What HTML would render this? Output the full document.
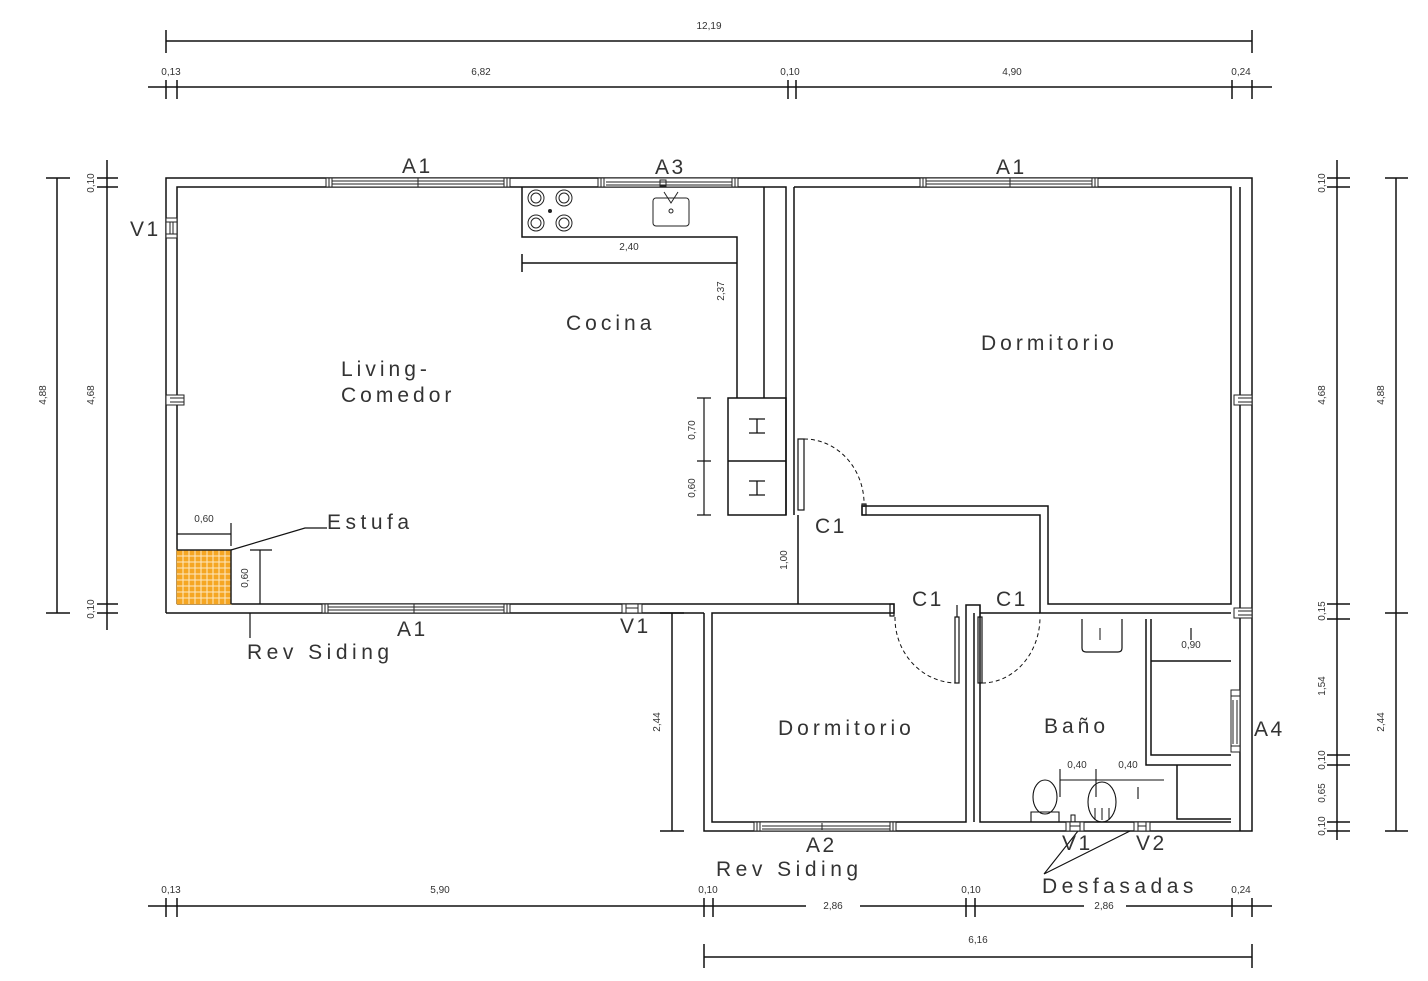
<!DOCTYPE html>
<html><head><meta charset="utf-8"><style>
html,body{margin:0;padding:0;background:#fff}
svg{display:block}
text{font-family:"Liberation Sans",sans-serif;fill:#333}
.d{font-size:10px}
.l{font-size:21px;letter-spacing:4px;fill:#444}
.r{font-size:21px;letter-spacing:2.5px;fill:#444}
.w{font-size:21px;letter-spacing:4.5px;fill:#444}
</style></head><body>
<svg width="1428" height="981" viewBox="0 0 1428 981" xmlns="http://www.w3.org/2000/svg">
<g stroke="#111" stroke-width="1.5" fill="none">
<line x1="166" y1="41" x2="1252" y2="41"/><line x1="166" y1="30" x2="166" y2="53"/><line x1="1252" y1="30" x2="1252" y2="53"/>
<line x1="148" y1="87" x2="1272" y2="87"/>
<path d="M166 80V99M177 80V99M788 80V99M796 80V99M1232 80V99M1252 80V99"/>
<line x1="57" y1="178" x2="57" y2="613"/><line x1="46" y1="178" x2="70" y2="178"/><line x1="46" y1="613" x2="70" y2="613"/>
<line x1="107" y1="160" x2="107" y2="630"/>
<path d="M97 178H118M97 187H118M97 604H118M97 613H118"/>
<line x1="1337" y1="160" x2="1337" y2="840"/>
<path d="M1327 178H1350M1327 187H1350M1327 604H1350M1327 619H1350M1327 755H1350M1327 765H1350M1327 822H1350M1327 831H1350"/>
<line x1="1396" y1="178" x2="1396" y2="831"/>
<path d="M1385 178H1408M1385 613H1408M1385 831H1408"/>
<line x1="148" y1="906" x2="806" y2="906"/><line x1="860" y1="906" x2="1084" y2="906"/><line x1="1126" y1="906" x2="1272" y2="906"/>
<path d="M166 898V917M177 898V917M704 898V917M713 898V917M966 898V917M975 898V917M1232 898V917M1252 898V917"/>
<line x1="704" y1="957" x2="1252" y2="957"/><line x1="704" y1="944" x2="704" y2="968"/><line x1="1252" y1="944" x2="1252" y2="968"/>
<line x1="672" y1="613" x2="672" y2="831"/><line x1="660" y1="613" x2="684" y2="613"/><line x1="660" y1="831" x2="684" y2="831"/>

<path d="M166 613V178H1252V831H704V613"/>
<path d="M177 604V187H786V515"/>
<path d="M794 187H1231V604H1048V506H862V515H1040V613H1231" />
<path d="M794 187V515"/>
<line x1="1240" y1="187" x2="1240" y2="831"/>
<path d="M166 613H704M177 604H894V613H712V822H966V605H980V822H1231"/>
<path d="M974 613V822"/>
<path d="M980 613H1040"/>
<path d="M522 187V237H737V398M764 187V398"/>
<line x1="522" y1="263" x2="737" y2="263"/><line x1="522" y1="254" x2="522" y2="272"/>
<rect x="728" y="398" width="58" height="117"/><line x1="728" y1="461" x2="786" y2="461"/>
<path d="M704 398V515M697 398H711M697 461H711M697 515H711" stroke-width="1.2"/>
<path d="M749 419H765M749 433H765M757 419V433M749 481H765M749 495H765M757 481V495" stroke-width="1.3"/>
<line x1="798" y1="515" x2="798" y2="604"/>
<rect x="177" y="550" width="54" height="54" fill="#f5a623" stroke="#f5a623" stroke-width="1"/>
<path d="M183 550V604M189 550V604M195 550V604M201 550V604M207 550V604M213 550V604M219 550V604M225 550V604M177 556H231M177 562H231M177 568H231M177 574H231M177 580H231M177 586H231M177 592H231M177 598H231" stroke="#fde9c4" stroke-width="1"/>
<path d="M177 550H231V604" stroke="#222"/>
<path d="M177 534H231M231 523V546" stroke-width="1.2"/>
<path d="M260 550V604M250 550H272" stroke-width="1.2"/>
<path d="M231 550L305 528H327" stroke-width="1.2"/>
<path d="M250 613V638" stroke-width="1.2"/>
<path d="M1146 619V765H1231M1151 619V755H1231M1151 661H1231M1177 765V819H1231"/>
<path d="M1191 628V640" stroke-width="1.2"/>
<path d="M1082 619V648Q1082 652 1086 652H1118Q1122 652 1122 648V619" stroke-width="1.2"/>
<path d="M1100 628V640" stroke-width="1"/>
<path d="M1060 780H1164M1060 769V797M1096 769V797M1138 787V799" stroke-width="1.1"/>
<ellipse cx="1045" cy="797" rx="12" ry="17" stroke-width="1.1"/>
<path d="M1031 822V812H1059V822" stroke-width="1.1"/>
<ellipse cx="1102" cy="802" rx="14" ry="20" stroke-width="1.1"/>
<path d="M1095 820V808M1102 820V808M1109 820V808" stroke-width="1"/>
<rect x="1071" y="815" width="4" height="7" stroke-width="1"/>
<rect x="798" y="439" width="6" height="71" stroke-width="1.2"/>
<path d="M804 439A60 65 0 0 1 864 507" stroke-dasharray="4 3" stroke-width="1"/>
<rect x="862" y="504" width="4" height="11" stroke-width="1.2"/>
<rect x="890" y="604" width="4" height="12" stroke-width="1.2"/>
<path d="M895 617A62 65 0 0 0 955 683" stroke-dasharray="4 3" stroke-width="1"/>
<rect x="955" y="617" width="4" height="66" stroke-width="1.2"/>
<rect x="978" y="617" width="4" height="66" stroke-width="1.2"/>
<path d="M982 683A58 66 0 0 0 1040 617" stroke-dasharray="4 3" stroke-width="1"/>
<path d="M957 605V617M980 605V617" stroke-width="1.2"/>
<path d="M1044 874L1078 831M1044 874L1130 831" stroke-width="1.1"/>
</g>
<g stroke="#222" stroke-width="1">
<g><rect x="326" y="178" width="184" height="9" fill="#fff"/><path d="M326 178V187M329 178V187M332 178V187M504 178V187M507 178V187M510 178V187M332 181H504M332 184H504M418 178V187" fill="none"/></g>
<g><rect x="598" y="178" width="140" height="9" fill="#fff"/><path d="M598 178V187M601 178V187M604 178V187M732 178V187M735 178V187M738 178V187M606 182H732M606 185H732M660 180H666V186H660Z" fill="none"/></g>
<g><rect x="920" y="178" width="178" height="9" fill="#fff"/><path d="M920 178V187M923 178V187M926 178V187M1092 178V187M1095 178V187M1098 178V187M926 181H1092M926 184H1092M1010 178V187" fill="none"/></g>
<g><rect x="322" y="604" width="188" height="9" fill="#fff"/><path d="M322 604V613M325 604V613M328 604V613M504 604V613M507 604V613M510 604V613M328 607H504M328 610H504M414 604V613" fill="none"/></g>
<g><rect x="622" y="604" width="20" height="9" fill="#fff"/><path d="M622 604V613M626 604V613M638 604V613M642 604V613M626 608H638" fill="none"/></g>
<g><rect x="754" y="822" width="142" height="9" fill="#fff"/><path d="M754 822V831M757 822V831M760 822V831M890 822V831M893 822V831M896 822V831M762 826H890M762 829H890M822 823V830" fill="none"/></g>
<g><rect x="1066" y="822" width="18" height="9" fill="#fff"/><path d="M1066 822V831M1070 822V831M1080 822V831M1084 822V831M1070 826H1080" fill="none"/></g>
<g><rect x="1134" y="822" width="16" height="9" fill="#fff"/><path d="M1134 822V831M1138 822V831M1146 822V831M1150 822V831M1138 826H1146" fill="none"/></g>
<g><rect x="166" y="218" width="11" height="20" fill="#fff"/><path d="M166 218H177M166 222H177M166 234H177M166 238H177M170 222V234M173 222V234" fill="none"/></g>
<g><rect x="166" y="395" width="18" height="10" fill="#fff"/><path d="M166 395H184V405H166M170 398H184M170 402H184" fill="none"/></g>
<g><rect x="1234" y="395" width="18" height="10" fill="#fff"/><path d="M1252 395H1234V405H1252M1238 398H1252M1238 402H1252" fill="none"/></g>
<g><rect x="1234" y="608" width="18" height="10" fill="#fff"/><path d="M1252 608H1234V618H1252M1238 611H1252M1238 615H1252" fill="none"/></g>
<g><rect x="1231" y="690" width="9" height="62" fill="#fff"/><path d="M1231 690H1240M1231 696H1240M1231 746H1240M1231 752H1240M1233 700V744M1237 700V744M1231 690V752M1240 690V752" fill="none"/></g>
</g>
<g stroke="#222" stroke-width="1" fill="none">
<circle cx="536" cy="198" r="8"/><circle cx="536" cy="198" r="5"/>
<circle cx="564" cy="198" r="8"/><circle cx="564" cy="198" r="5"/>
<circle cx="536" cy="223" r="8"/><circle cx="536" cy="223" r="5"/>
<circle cx="564" cy="223" r="8"/><circle cx="564" cy="223" r="5"/>
<rect x="653" y="198" width="36" height="28" rx="3"/>
<path d="M664 192L671 203L678 192"/>
<circle cx="671" cy="211" r="2"/>
</g>
<circle cx="550" cy="211" r="2" fill="#222"/>
<g class="d" text-anchor="middle">
<text x="709" y="29">12,19</text>
<text x="171" y="75">0,13</text><text x="481" y="75">6,82</text><text x="790" y="75">0,10</text><text x="1012" y="75">4,90</text><text x="1241" y="75">0,24</text>
<text x="171" y="893">0,13</text><text x="440" y="893">5,90</text><text x="708" y="893">0,10</text><text x="833" y="909">2,86</text><text x="971" y="893">0,10</text><text x="1104" y="909">2,86</text><text x="1241" y="893">0,24</text>
<text x="978" y="943">6,16</text>
<text x="629" y="250">2,40</text>
<text x="204" y="522">0,60</text>
<text x="1191" y="648">0,90</text>
<text x="1077" y="768">0,40</text><text x="1128" y="768">0,40</text>
</g>
<g class="d" text-anchor="middle">
<text transform="translate(46 395) rotate(-90)">4,88</text>
<text transform="translate(94 395) rotate(-90)">4,68</text>
<text transform="translate(94 183) rotate(-90)">0,10</text>
<text transform="translate(94 609) rotate(-90)">0,10</text>
<text transform="translate(1325 183) rotate(-90)">0,10</text>
<text transform="translate(1325 395) rotate(-90)">4,68</text>
<text transform="translate(1384 395) rotate(-90)">4,88</text>
<text transform="translate(1325 611) rotate(-90)">0,15</text>
<text transform="translate(1325 686) rotate(-90)">1,54</text>
<text transform="translate(1325 760) rotate(-90)">0,10</text>
<text transform="translate(1325 793) rotate(-90)">0,65</text>
<text transform="translate(1325 826) rotate(-90)">0,10</text>
<text transform="translate(1384 722) rotate(-90)">2,44</text>
<text transform="translate(660 722) rotate(-90)">2,44</text>
<text transform="translate(724 291) rotate(-90)">2,37</text>
<text transform="translate(695 430) rotate(-90)">0,70</text>
<text transform="translate(695 488) rotate(-90)">0,60</text>
<text transform="translate(248 578) rotate(-90)">0,60</text>
<text transform="translate(787 560) rotate(-90)">1,00</text>
</g>
<g class="r">
<text x="402" y="173">A1</text><text x="655" y="174">A3</text><text x="996" y="174">A1</text>
<text x="130" y="236">V1</text>
<text x="397" y="636">A1</text><text x="620" y="633">V1</text>
<text x="806" y="852">A2</text>
<text x="1062" y="850">V1</text><text x="1136" y="850">V2</text>
<text x="1254" y="736">A4</text>
<text x="815" y="533">C1</text><text x="912" y="606">C1</text><text x="996" y="606">C1</text>
</g>
<g class="w">
<text x="327" y="529">Estufa</text>
<text x="247" y="659">Rev Siding</text>
<text x="716" y="876">Rev Siding</text>
<text x="1042" y="893">Desfasadas</text>
</g>
<g class="l">
<text x="566" y="330">Cocina</text>
<text x="341" y="376">Living-</text>
<text x="341" y="402">Comedor</text>
<text x="981" y="350">Dormitorio</text>
<text x="778" y="735">Dormitorio</text>
<text x="1044" y="733">Baño</text>
</g>
</svg>
</body></html>
